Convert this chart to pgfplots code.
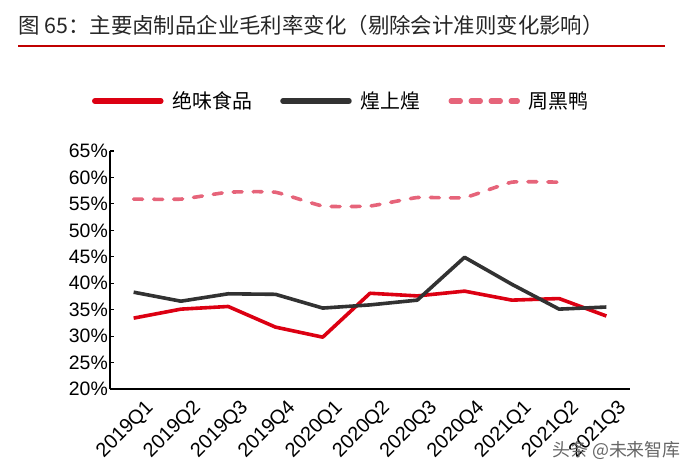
\documentclass[border=0pt]{standalone}
\usepackage{pgfplots}
\pgfplotsset{compat=1.18}
\usepackage{fontspec}
\setmainfont{Liberation Sans}
\newfontfamily\cjk{Noto Sans CJK SC}

\definecolor{jwred}{RGB}{220,0,18}
\definecolor{hsdark}{RGB}{50,50,50}
\definecolor{zhpink}{RGB}{230,100,122}
\definecolor{titlered}{RGB}{192,0,0}

\begin{document}
\begin{tikzpicture}[x=1bp,y=1bp]
\useasboundingbox (0,0) rectangle (692,473);

% title and underline
\node[anchor=base west,inner sep=0pt,text=black!85] at (18,439)
  {\cjk\fontsize{21.5}{21.5}\selectfont 图 65：主要卤制品企业毛利率变化（剔除会计准则变化影响）};
\draw[titlered,line width=2bp] (18,427) -- (665,427);

\begin{axis}[
    at={(110bp,84bp)}, anchor=south west,
    scale only axis,
    width=520bp, height=238bp,
    xmin=-0.5, xmax=10.5,
    ymin=20, ymax=65,
    ytick={20,25,...,65},
    xtick={0,...,10},
    xticklabels={2019Q1,2019Q2,2019Q3,2019Q4,2020Q1,2020Q2,2020Q3,2020Q4,2021Q1,2021Q2,2021Q3},
    x tick label style={rotate=45,anchor=north east,font=\fontsize{20}{20}\selectfont,inner sep=0pt,yshift=-14bp,xshift=1bp},
    y tick label style={font=\fontsize{19.5}{20}\selectfont,inner sep=2pt},
    yticklabel={\pgfmathprintnumber{\tick}\%},
    /pgf/number format/assume math mode=true,
    axis x line=bottom, axis y line=left,
    axis line style={line width=1.6bp,-},
    major tick length=4bp,
    xtick style={draw=none},
    ytick style={line width=1.2bp,black},
    tick align=inside,
    clip=false,
    legend columns=3,
    legend style={at={(0.445,1.21)},anchor=center,draw=none,fill=none,
        font=\cjk\fontsize{20}{20}\selectfont,
        /tikz/every odd column/.append style={column sep=7bp},
        /tikz/every even column/.append style={column sep=26bp},
        inner sep=0pt},
    legend image code/.code={\draw[#1,line width=5.5bp,line cap=round] (0bp,0bp) -- (66bp,0bp);},
]
\addplot[jwred,line width=3.6bp,line join=round] coordinates {
 (0,33.4)(1,35.1)(2,35.6)(3,31.7)(4,29.8)(5,38.1)(6,37.6)(7,38.5)(8,36.8)(9,37.1)(10,33.8)};
\addlegendentry{绝味食品}
\addplot[hsdark,line width=3.6bp,line join=round] coordinates {
 (0,38.3)(1,36.6)(2,38.0)(3,37.9)(4,35.3)(5,35.9)(6,36.8)(7,44.9)(8,39.8)(9,35.1)(10,35.5)};
\addlegendentry{煌上煌}
\addplot[zhpink,line width=3.6bp,line cap=round,dash pattern=on 9bp off 11bp,smooth,tension=0.25] coordinates {
 (0,55.9)(1,55.9)(2,57.2)(3,57.2)(4,54.6)(5,54.6)(6,56.2)(7,56.2)(8,59.1)(9,59.1)};
\addlegendentry{周黑鸭}
\end{axis}

% watermark
\node[anchor=base west,inner sep=0pt,text=black!60] at (552,16)
  {\cjk\fontsize{18}{18}\selectfont 头条 @未来智库};
\end{tikzpicture}
\end{document}
